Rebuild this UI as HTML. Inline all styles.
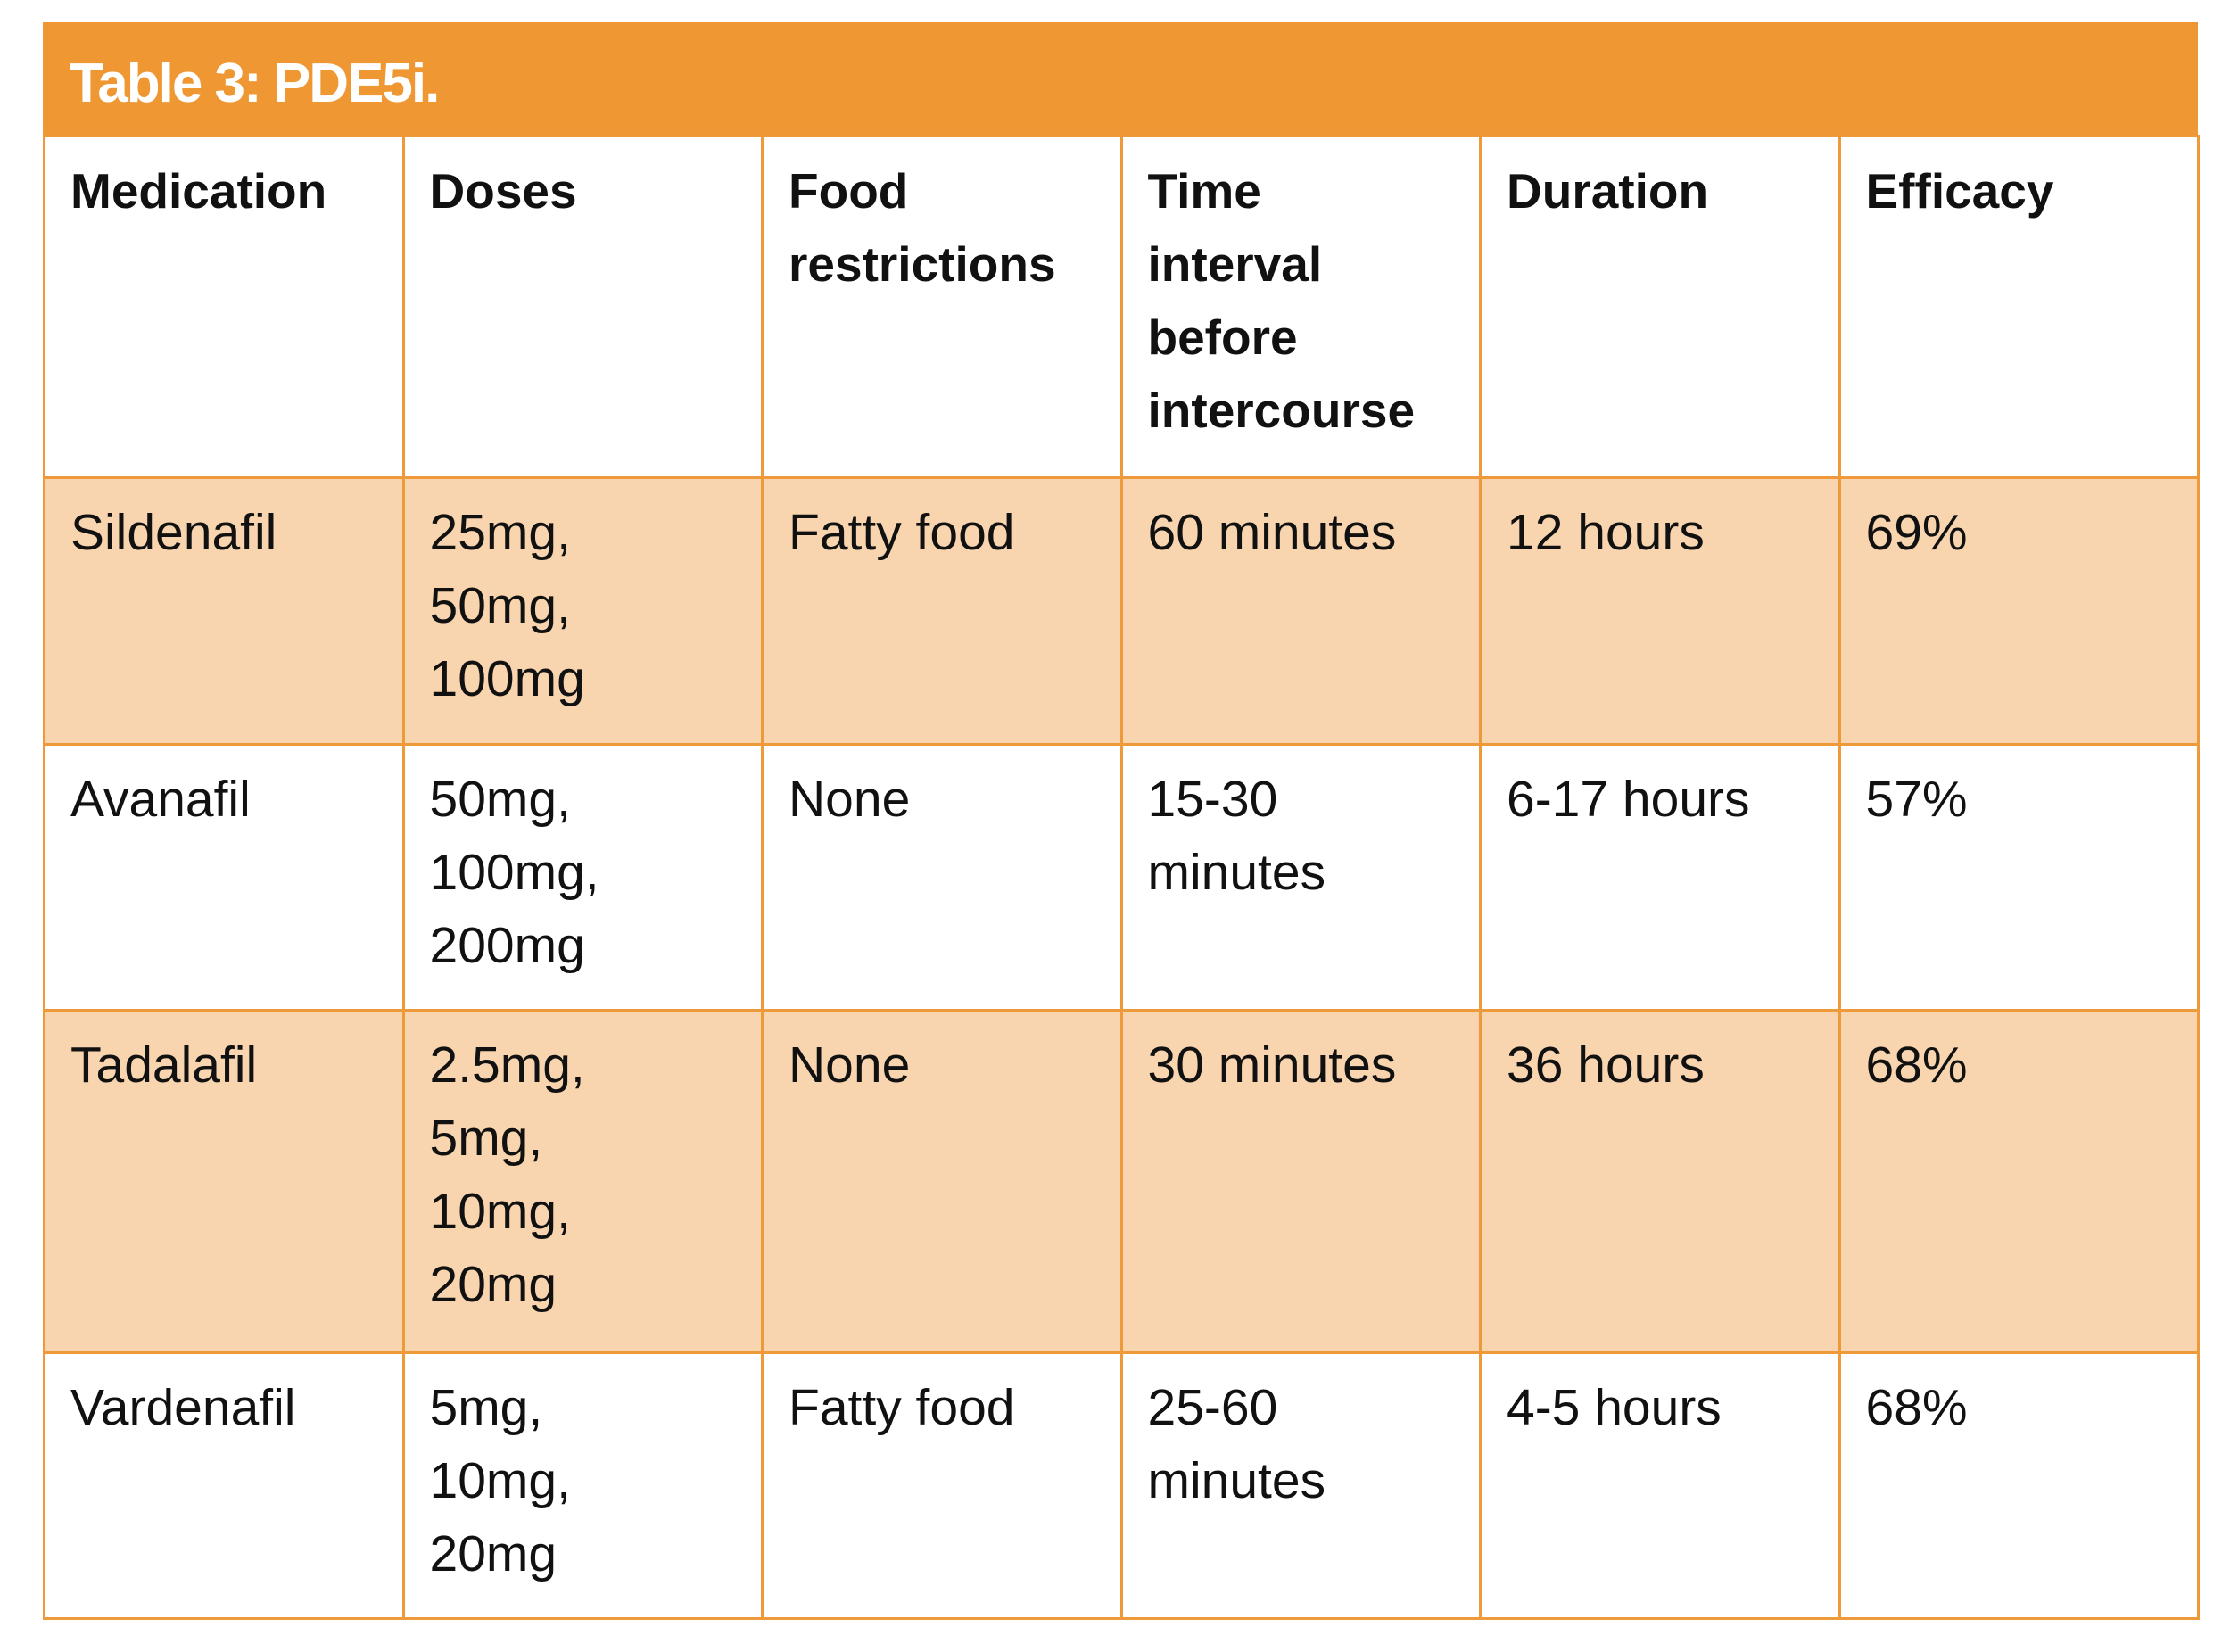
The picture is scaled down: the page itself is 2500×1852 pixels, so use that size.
<!DOCTYPE html>
<html><head><style>
html,body{margin:0;padding:0;background:#fff;width:2500px;height:1852px;overflow:hidden}
.title{position:absolute;left:48px;top:25px;width:2416px;height:126px;background:#EE9733;}
.title span{position:absolute;left:30px;top:38px;font:bold 62px/1 "Liberation Sans",sans-serif;color:#fff;letter-spacing:-2px}
table{position:absolute;left:48px;top:151px;width:2418px;border-collapse:collapse;table-layout:fixed;font-family:"Liberation Sans",sans-serif}
td{border:3px solid #EE9A3A;vertical-align:top;padding:19px 0 0 28px;font-size:57px;line-height:82px;color:#111;box-sizing:border-box}
tr.h td{font-weight:bold;font-size:55px;height:383px}
tr.o td{background:#F8D5AF}
</style></head><body>
<div class="title"><span>Table 3: PDE5i.</span></div>
<table>
<colgroup><col><col><col><col><col><col></colgroup>
<tr class="h"><td>Medication</td><td>Doses</td><td>Food<br>restrictions</td><td>Time<br>interval<br>before<br>intercourse</td><td>Duration</td><td>Efficacy</td></tr>
<tr class="o" style="height:299px"><td>Sildenafil</td><td>25mg,<br>50mg,<br>100mg</td><td>Fatty food</td><td>60 minutes</td><td>12 hours</td><td>69%</td></tr>
<tr style="height:298px"><td>Avanafil</td><td>50mg,<br>100mg,<br>200mg</td><td>None</td><td>15-30<br>minutes</td><td>6-17 hours</td><td>57%</td></tr>
<tr class="o" style="height:384px"><td>Tadalafil</td><td>2.5mg,<br>5mg,<br>10mg,<br>20mg</td><td>None</td><td>30 minutes</td><td>36 hours</td><td>68%</td></tr>
<tr style="height:298px"><td>Vardenafil</td><td>5mg,<br>10mg,<br>20mg</td><td>Fatty food</td><td>25-60<br>minutes</td><td>4-5 hours</td><td>68%</td></tr>
</table>
</body></html>
